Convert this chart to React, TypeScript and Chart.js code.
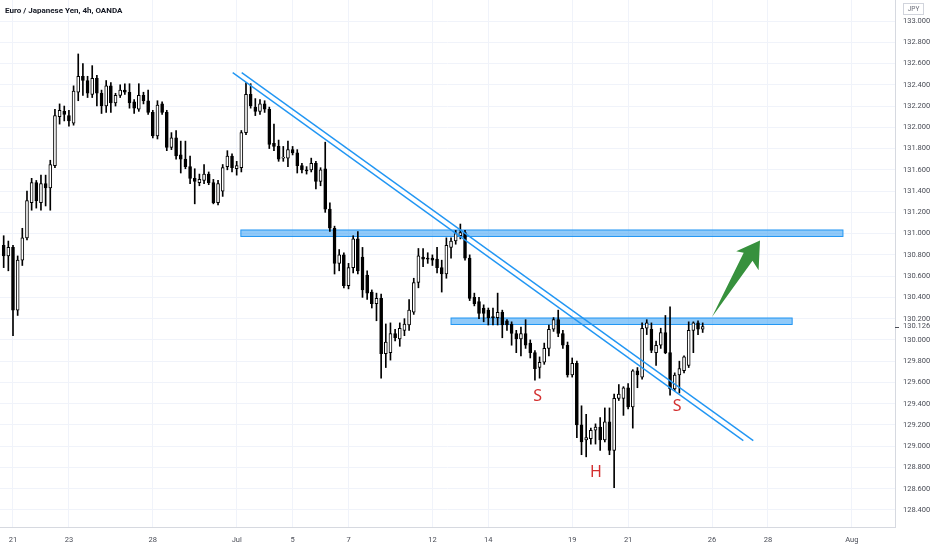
import React, { useEffect, useRef } from "react";
import { Chart, registerables } from "chart.js";

Chart.register(...registerables);

// 4h bars, index 0 = first bar of Jun 21, 6 bars per trading day
const firstBar = -2;
const opens = [
  130.89, 130.79, 130.87, 130.28, 130.75, 130.96, 131.29, 131.48, 131.29, 131.47,
  131.43, 131.64, 132.10, 132.15, 132.11, 132.04, 132.33, 132.48, 132.44, 132.31,
  132.46, 132.32, 132.20, 132.39, 132.23, 132.30, 132.35, 132.33, 132.24, 132.17,
  132.30, 132.25, 132.14, 131.92, 132.22, 132.14, 131.81, 131.90, 131.74, 131.70,
  131.63, 131.52, 131.48, 131.50, 131.56, 131.48, 131.29, 131.40, 131.63, 131.73,
  131.61, 131.62, 131.95, 132.31, 132.19, 132.15, 132.22, 132.17, 131.85, 131.82,
  131.71, 131.71, 131.79, 131.76, 131.64, 131.60, 131.60, 131.66, 131.49, 131.61,
  131.23, 131.05, 130.72, 130.80, 130.51, 130.68, 130.95, 130.78, 130.61, 130.45,
  130.34, 130.39, 129.87, 129.88, 130.06, 130.01, 130.09, 130.14, 130.26, 130.54,
  130.78, 130.77, 130.77, 130.76, 130.68, 130.62, 130.87, 130.93, 130.98, 131.01,
  130.77, 130.40, 130.36, 130.30, 130.28, 130.22, 130.21, 130.26, 130.18, 130.15,
  130.06, 130.01, 130.06, 129.97, 129.88, 129.74, 129.79, 129.92, 130.10, 130.19,
  130.06, 129.95, 129.67, 129.78, 129.20, 129.06, 129.07, 129.15, 129.18, 129.06,
  129.23, 128.96, 129.45, 129.45, 129.55, 129.37, 129.71, 129.65, 130.11, 130.10,
  129.88, 129.95, 130.07, 129.88, 129.54, 129.67, 129.71, 129.76, 130.09, 130.16,
  130.10,
];
const highs = [
  130.98, 130.93, 130.89, 130.79, 131.05, 131.40, 131.52, 131.50, 131.55, 131.55,
  131.69, 132.17, 132.22, 132.20, 132.16, 132.39, 132.69, 132.60, 132.48, 132.58,
  132.49, 132.35, 132.44, 132.42, 132.32, 132.40, 132.41, 132.41, 132.26, 132.41,
  132.33, 132.35, 132.16, 132.25, 132.24, 132.16, 131.95, 131.97, 131.87, 131.87,
  131.73, 131.61, 131.56, 131.65, 131.58, 131.51, 131.50, 131.65, 131.78, 131.75,
  131.68, 131.97, 132.42, 132.41, 132.27, 132.26, 132.25, 132.19, 132.03, 131.88,
  131.82, 131.87, 131.82, 131.79, 131.66, 131.63, 131.71, 131.68, 131.62, 131.86,
  131.29, 131.07, 130.85, 130.82, 130.72, 130.98, 131.02, 130.87, 130.65, 130.47,
  130.44, 130.43, 130.15, 130.16, 130.10, 130.16, 130.20, 130.38, 130.58, 130.86,
  130.86, 130.82, 130.80, 130.87, 130.75, 130.96, 130.96, 131.03, 131.09, 131.03,
  130.80, 130.44, 130.40, 130.33, 130.30, 130.30, 130.44, 130.28, 130.19, 130.17,
  130.09, 130.12, 130.19, 130.00, 129.90, 129.84, 129.97, 130.14, 130.21, 130.28,
  130.09, 129.98, 129.83, 129.80, 129.38, 129.30, 129.17, 129.21, 129.27, 129.36,
  129.36, 129.49, 129.58, 129.56, 129.59, 129.72, 129.74, 130.16, 130.19, 130.16,
  129.99, 130.11, 130.23, 130.31, 129.69, 129.80, 129.85, 130.17, 130.17, 130.18,
  130.16,
];
const lows = [
  130.68, 130.65, 130.04, 130.23, 130.70, 130.94, 131.22, 131.24, 131.22, 131.26,
  131.22, 131.62, 132.03, 132.06, 132.01, 132.02, 132.25, 132.30, 132.28, 132.28,
  132.20, 132.13, 132.14, 132.14, 132.20, 132.28, 132.31, 132.18, 132.13, 132.15,
  132.22, 132.12, 131.90, 131.89, 132.12, 131.78, 131.79, 131.70, 131.57, 131.61,
  131.47, 131.28, 131.45, 131.47, 131.46, 131.28, 131.27, 131.35, 131.60, 131.58,
  131.55, 131.58, 131.93, 132.18, 132.11, 132.12, 132.14, 131.80, 131.78, 131.68,
  131.68, 131.63, 131.74, 131.57, 131.57, 131.56, 131.58, 131.42, 131.45, 131.20,
  131.02, 130.62, 130.65, 130.49, 130.48, 130.63, 130.62, 130.40, 130.38, 130.30,
  130.18, 129.64, 129.74, 129.81, 129.99, 129.94, 130.04, 130.09, 130.24, 130.49,
  130.69, 130.72, 130.70, 130.63, 130.45, 130.58, 130.77, 130.90, 130.95, 130.75,
  130.37, 130.32, 130.20, 130.17, 130.14, 130.14, 130.14, 130.02, 130.09, 129.95,
  129.88, 129.85, 129.92, 129.83, 129.62, 129.64, 129.77, 129.85, 130.08, 130.03,
  129.92, 129.65, 129.65, 129.08, 128.92, 128.90, 129.02, 129.02, 128.96, 129.04,
  128.92, 128.61, 129.43, 129.29, 129.35, 129.17, 129.55, 129.63, 130.05, 129.88,
  129.76, 129.92, 129.87, 129.48, 129.52, 129.50, 129.69, 129.74, 129.88, 130.05,
  130.07,
];
const closes = [
  130.79, 130.87, 130.28, 130.75, 130.96, 131.31, 131.48, 131.31, 131.47, 131.43,
  131.65, 132.11, 132.16, 132.12, 132.06, 132.34, 132.48, 132.44, 132.32, 132.46,
  132.32, 132.20, 132.39, 132.23, 132.30, 132.35, 132.33, 132.23, 132.18, 132.30,
  132.25, 132.14, 131.92, 132.21, 132.14, 131.81, 131.90, 131.73, 131.70, 131.63,
  131.52, 131.49, 131.51, 131.56, 131.48, 131.29, 131.47, 131.62, 131.73, 131.62,
  131.64, 131.95, 132.31, 132.20, 132.15, 132.22, 132.17, 131.84, 131.82, 131.70,
  131.72, 131.79, 131.76, 131.64, 131.60, 131.59, 131.66, 131.49, 131.60, 131.23,
  131.05, 130.72, 130.80, 130.51, 130.68, 130.95, 130.65, 130.47, 130.44, 130.34,
  130.39, 129.87, 129.98, 130.06, 130.02, 130.11, 130.15, 130.28, 130.54, 130.79,
  130.76, 130.76, 130.75, 130.68, 130.62, 130.89, 130.93, 131.00, 131.01, 130.77,
  130.39, 130.34, 130.25, 130.25, 130.21, 130.21, 130.26, 130.14, 130.14, 130.06,
  130.01, 130.06, 129.95, 129.88, 129.73, 129.79, 129.92, 130.10, 130.19, 130.06,
  129.95, 129.67, 129.78, 129.20, 129.04, 129.08, 129.15, 129.18, 129.06, 129.23,
  128.96, 129.45, 129.49, 129.55, 129.37, 129.71, 129.67, 130.11, 130.16, 129.90,
  129.95, 130.07, 129.88, 129.54, 129.67, 129.73, 129.84, 130.09, 130.16, 130.10,
  130.126,
];

const dayTicks = [0, 12, 30, 48, 60, 72, 90, 102, 120, 132, 150, 162, 180];
const dayLabels = ["21", "23", "28", "Jul", "5", "7", "12", "14", "19", "21", "26", "28", "Aug"];
const priceTicks = [
  128.4, 128.6, 128.8, 129.0, 129.2, 129.4, 129.6, 129.8, 130.0, 130.2, 130.4, 130.6,
  130.8, 131.0, 131.2, 131.4, 131.6, 131.8, 132.0, 132.2, 132.4, 132.6, 132.8, 133.0,
];
const lastPrice = 130.126;

// drawings: bar index / price
const channelLow = [{ x: 47.15, y: 132.514 }, { x: 156.72, y: 129.052 }];
const channelHigh = [{ x: 49.08, y: 132.514 }, { x: 158.86, y: 129.052 }];
const zones = [
  [48.9, 178.1, 130.973, 131.034],
  [94.0, 167.2, 130.145, 130.206],
];
const arrowPts = [
  [150.0, 130.215], [156.8, 130.82], [155.2, 130.835],
  [160.3, 130.935], [160.0, 130.655], [158.7, 130.745],
];
const marks = [
  { t: "S", x: 112.6, y: 129.468 },
  { t: "H", x: 125.1, y: 128.752 },
  { t: "S", x: 142.5, y: 129.378 },
];

const axisFont = { family: "Roboto", size: 7.5 };
const axisColor = "#4a4d57";
const gridColor = "#f0f3fa";
const borderColor = "#d6d9e0";

const drawings = {
  id: "drawings",
  beforeDatasetsDraw(chart: any) {
    const { ctx, chartArea: a, scales } = chart;
    const { x, y } = scales;
    ctx.save();
    ctx.beginPath();
    ctx.rect(a.left, a.top, a.right - a.left, a.bottom - a.top);
    ctx.clip();
    zones.forEach(([x0, x1, lo, hi]) => {
      const l = x.getPixelForValue(x0);
      const r = x.getPixelForValue(x1);
      const t = y.getPixelForValue(hi);
      const b = y.getPixelForValue(lo);
      ctx.fillStyle = "rgba(33,150,243,0.5)";
      ctx.fillRect(l, t, r - l, b - t);
      ctx.strokeStyle = "#2196f3";
      ctx.lineWidth = 1;
      ctx.strokeRect(l, t, r - l, b - t);
    });
    ctx.restore();
  },
  afterDatasetsDraw(chart: any) {
    const { ctx, chartArea: a, scales } = chart;
    const { x, y } = scales;
    ctx.save();
    ctx.beginPath();
    ctx.rect(a.left, a.top, a.right - a.left, a.bottom - a.top);
    ctx.clip();

    ctx.beginPath();
    arrowPts.forEach(([i, p], k) => {
      const px = x.getPixelForValue(i);
      const py = y.getPixelForValue(p);
      if (k === 0) ctx.moveTo(px, py);
      else ctx.lineTo(px, py);
    });
    ctx.closePath();
    ctx.fillStyle = "#37913d";
    ctx.fill();

    ctx.fillStyle = "#d32f2f";
    ctx.font = "16px 'Noto Sans'";
    ctx.textAlign = "center";
    ctx.textBaseline = "middle";
    marks.forEach((m) => {
      ctx.fillText(m.t, x.getPixelForValue(m.x), y.getPixelForValue(m.y));
    });
    ctx.restore();
  },
  afterDraw(chart: any) {
    const { ctx, scales } = chart;
    const { y } = scales;
    ctx.save();
    ctx.fillStyle = "#131722";
    ctx.font = "bold 8px Roboto";
    ctx.textBaseline = "middle";
    ctx.textAlign = "left";
    ctx.fillText("Euro / Japanese Yen, 4h, OANDA", 5, 11);

    ctx.strokeStyle = "#d1d4dc";
    ctx.lineWidth = 1;
    ctx.strokeRect(903.5, 3.5, 20, 11);
    ctx.fillStyle = "#6a6d78";
    ctx.font = "6.5px Roboto";
    ctx.textAlign = "center";
    ctx.fillText("JPY", 913.5, 9.5);

    const py = y.getPixelForValue(lastPrice);
    ctx.strokeStyle = axisColor;
    ctx.beginPath();
    ctx.moveTo(895, Math.round(py) + 0.5);
    ctx.lineTo(899, Math.round(py) + 0.5);
    ctx.stroke();
    ctx.fillStyle = axisColor;
    ctx.font = "7.5px Roboto";
    ctx.textAlign = "left";
    ctx.fillText(lastPrice.toFixed(3), 903, py);
    ctx.restore();
  },
};

const CandleChart: React.FC = () => {
  const chartRef = useRef<HTMLCanvasElement | null>(null);

  useEffect(() => {
    let chartInstance: Chart | null = null;
    if (chartRef.current) {
      const ctx = chartRef.current.getContext("2d");
      if (ctx) {
        const idx = opens.map((_, k) => firstBar + k);
        chartInstance = new Chart(ctx, {
          type: "bar",
          data: {
            datasets: [
              {
                type: "line",
                data: channelLow,
                borderColor: "#2196f3",
                borderWidth: 1.4,
                pointRadius: 0,
                order: -2,
              } as any,
              {
                type: "line",
                data: channelHigh,
                borderColor: "#2196f3",
                borderWidth: 1.4,
                pointRadius: 0,
                order: -2,
              } as any,
              {
                type: "bar",
                data: idx.map((i, k) => ({ x: i, y: [opens[k], closes[k]] })),
                backgroundColor: idx.map((_, k) => (closes[k] >= opens[k] ? "#ffffff" : "#000000")),
                borderColor: "#000000",
                borderWidth: 1,
                borderSkipped: false,
                barThickness: 3,
                minBarLength: 1,
                grouped: false,
                order: 0,
              } as any,
              {
                type: "bar",
                data: idx.map((i, k) => ({ x: i, y: [lows[k], highs[k]] })),
                backgroundColor: "#000000",
                barThickness: 1,
                grouped: false,
                order: 1,
              } as any,
            ],
          },
          options: {
            responsive: false,
            animation: false,
            events: [],
            layout: { padding: 0, autoPadding: false },
            plugins: { legend: { display: false }, tooltip: { enabled: false } },
            scales: {
              x: {
                type: "linear",
                min: -13 / 4.66,
                max: (895 - 13) / 4.66,
                offset: false,
                grid: { color: gridColor, offset: false, drawTicks: false },
                border: { color: borderColor },
                afterBuildTicks: (s: any) => {
                  s.ticks = dayTicks.map((v) => ({ value: v }));
                },
                afterFit: (s: any) => {
                  s.height = 23;
                  s.paddingLeft = 0;
                  s.paddingRight = 0;
                  s.paddingTop = 0;
                  s.paddingBottom = 0;
                },
                ticks: {
                  autoSkip: false,
                  maxRotation: 0,
                  padding: 9,
                  color: axisColor,
                  font: axisFont,
                  callback: (v: any) => dayLabels[dayTicks.indexOf(Number(v))] ?? "",
                },
              },
              y: {
                type: "linear",
                position: "right",
                min: 133 - 506 / 106.3,
                max: 133 + 21 / 106.3,
                grid: { color: gridColor, drawTicks: false },
                border: { color: borderColor },
                afterBuildTicks: (s: any) => {
                  s.ticks = priceTicks.map((v) => ({ value: v }));
                },
                afterFit: (s: any) => {
                  s.width = 37;
                  s.paddingLeft = 0;
                  s.paddingRight = 0;
                  s.paddingTop = 0;
                  s.paddingBottom = 0;
                },
                ticks: {
                  autoSkip: false,
                  padding: 8,
                  color: axisColor,
                  font: axisFont,
                  callback: (v: any) => Number(v).toFixed(3),
                },
              },
            },
          } as any,
          plugins: [drawings],
        });
      }
    }
    return () => {
      if (chartInstance) {
        chartInstance.destroy();
      }
    };
  }, []);

  return <canvas ref={chartRef} width={932} height={550} style={{ display: "block" }} />;
};

export default function App() {
  return (
    <div style={{ position: "absolute", left: 0, top: 0, width: 932, height: 550, background: "#ffffff" }}>
      <CandleChart />
    </div>
  );
}
